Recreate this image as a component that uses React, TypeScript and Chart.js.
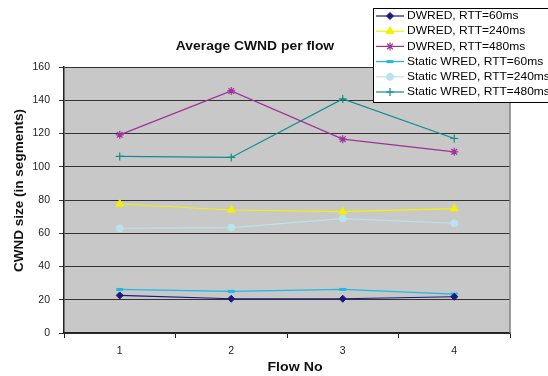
import React, { useEffect, useRef } from "react";
import { Chart, registerables } from "chart.js";
import { drawPoint } from "chart.js/helpers";

Chart.register(...registerables);

const categories = ["1", "2", "3", "4"];
const yTicks = [0, 20, 40, 60, 80, 100, 120, 140, 160];

const dwred60 = [22.6, 20.6, 20.6, 21.8];
const dwred240 = [77.6, 74.0, 73.0, 74.8];
const dwred480 = [119.2, 145.6, 116.6, 109.0];
const static60 = [26.2, 25.0, 26.2, 23.4];
const static240 = [63.0, 63.4, 68.8, 66.0];
const static480 = [106.2, 105.6, 140.8, 117.0];

const seriesNames = [
  "DWRED, RTT=60ms",
  "DWRED, RTT=240ms",
  "DWRED, RTT=480ms",
  "Static WRED, RTT=60ms",
  "Static WRED, RTT=240ms",
  "Static WRED, RTT=480ms",
];

const FONT = "Arial, 'Liberation Sans', sans-serif";

function stretchedText(ctx: any, text: string, x: number, y: number, sx: number, align: string) {
  ctx.save();
  ctx.translate(x, y);
  ctx.scale(sx, 1);
  ctx.textAlign = align;
  ctx.fillText(text, 0, 0);
  ctx.restore();
}

const layoutPlugin = {
  id: "excelLook",
  beforeDraw(chart: any) {
    const { ctx, chartArea } = chart;
    ctx.save();
    ctx.fillStyle = "#ffffff";
    ctx.fillRect(0, 0, chart.width, chart.height);
    ctx.fillStyle = "#c8c8c8";
    ctx.fillRect(chartArea.left, chartArea.top, chartArea.right - chartArea.left, chartArea.bottom - chartArea.top);
    ctx.restore();
  },
  afterDraw(chart: any) {
    const { ctx, chartArea } = chart;
    ctx.save();
    // right border of plot area
    ctx.strokeStyle = "#808080";
    ctx.lineWidth = 1.5;
    ctx.beginPath();
    ctx.moveTo(chartArea.right, chartArea.top);
    ctx.lineTo(chartArea.right, chartArea.bottom);
    ctx.stroke();

    // titles
    ctx.fillStyle = "#111";
    ctx.textBaseline = "middle";
    ctx.font = `bold 12.5px ${FONT}`;
    stretchedText(ctx, "Average CWND per flow", 255, 46.5, 1.11, "center");
    ctx.font = `bold 13px ${FONT}`;
    stretchedText(ctx, "Flow No", 295, 367.5, 1.09, "center");
    ctx.save();
    ctx.font = `bold 13.5px ${FONT}`;
    ctx.translate(19, 190.5);
    ctx.rotate(-Math.PI / 2);
    ctx.textAlign = "center";
    ctx.fillText("CWND size (in segments)", 0, 0);
    ctx.restore();

    // legend
    const bx = 373.5, by = 8.5, bw = 190, bh = 94;
    ctx.fillStyle = "#ffffff";
    ctx.fillRect(bx, by, bw, bh);
    ctx.strokeStyle = "#000";
    ctx.lineWidth = 1;
    ctx.strokeRect(bx, by, bw, bh);
    ctx.font = `10px ${FONT}`;
    ctx.textBaseline = "middle";
    chart.data.datasets.forEach((ds: any, i: number) => {
      const y = 16 + i * 15.2;
      ctx.strokeStyle = ds.borderColor;
      ctx.lineWidth = 1.2;
      ctx.beginPath();
      ctx.moveTo(376, y);
      ctx.lineTo(404, y);
      ctx.stroke();
      ctx.fillStyle = ds.pointBackgroundColor;
      ctx.strokeStyle = ds.pointBorderColor;
      ctx.lineWidth = ds.pointBorderWidth;
      drawPoint(ctx, { pointStyle: ds.pointStyle, radius: ds.pointRadius, borderWidth: ds.pointBorderWidth, rotation: 0 } as any, 390, y);
      ctx.fillStyle = "#000";
      stretchedText(ctx, seriesNames[i], 407, y + 0.5, 1.2, "left");
    });
    ctx.restore();
  },
};

function makeDataset(label: string, data: number[], color: string, style: string, radius: number, bw: number, fill?: string) {
  return {
    label,
    data,
    borderColor: color,
    backgroundColor: fill || color,
    pointBackgroundColor: fill || color,
    pointBorderColor: color,
    pointStyle: style,
    pointRadius: radius,
    pointBorderWidth: bw,
    borderWidth: 1.2,
    tension: 0,
  };
}

export default function App() {
  const ref = useRef<HTMLCanvasElement | null>(null);
  useEffect(() => {
    if (!ref.current) return;
    const chart = new Chart(ref.current, {
      type: "line",
      data: {
        labels: categories,
        datasets: [
          makeDataset(seriesNames[0], dwred60, "#1a1a80", "rectRot", 3.5, 1),
          makeDataset(seriesNames[1], dwred240, "#f5f000", "triangle", 4.5, 1),
          makeDataset(seriesNames[2], dwred480, "#a0309a", "star", 4, 1.2),
          makeDataset(seriesNames[3], static60, "#1eb8e6", "line", 3.5, 3),
          makeDataset(seriesNames[4], static240, "#b8e4ee", "circle", 3.5, 1),
          makeDataset(seriesNames[5], static480, "#108c8c", "cross", 4, 1.2),
        ] as any,
      },
      options: {
        animation: false,
        responsive: false,
        devicePixelRatio: 1,
        layout: { padding: { left: 0, top: 67, right: 38, bottom: 0 } },
        plugins: {
          legend: { display: false },
          title: { display: false },
          tooltip: { enabled: false },
        },
        scales: {
          x: {
            type: "category",
            offset: true,
            afterFit: (s: any) => { s.height = 43; },
            grid: {
              offset: true,
              drawOnChartArea: false,
              drawTicks: true,
              tickLength: 5,
              color: "#222",
              lineWidth: 1,
            },
            border: { color: "#222", width: 1.5 },
            ticks: { color: "#222", font: { family: FONT, size: 10.5 }, padding: 7, maxRotation: 0 },
          },
          y: {
            min: 0,
            max: 160,
            afterFit: (s: any) => { s.width = 64; },
            afterBuildTicks: (s: any) => { s.ticks = yTicks.map((v) => ({ value: v })); },
            grid: { color: "#333", lineWidth: 1, tickLength: 5, drawTicks: true },
            border: { color: "#222", width: 1.5 },
            ticks: { color: "#222", font: { family: FONT, size: 10.5 }, padding: 9 },
          },
        },
      } as any,
      plugins: [layoutPlugin],
    });
    return () => chart.destroy();
  }, []);
  return (
    <div style={{ position: "fixed", left: 0, top: 0, width: 548, height: 376, overflow: "hidden", background: "#fff" }}>
      <canvas ref={ref} width={548} height={376} style={{ width: 548, height: 376, display: "block" }} />
    </div>
  );
}
